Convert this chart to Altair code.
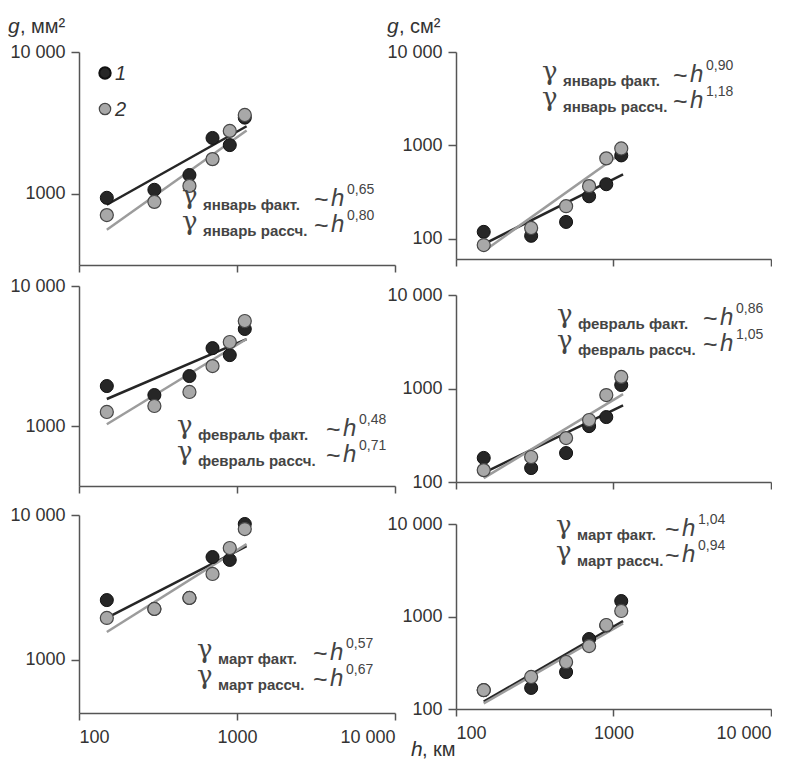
import altair as alt
import pandas as pd

# altitude of the points, km
H = [150, 300, 500, 700, 900, 1120]
LINE_H = [150, 1150]

# January
jan_mm_1 = [940, 1070, 1360, 2480, 2210, 3450]
jan_mm_2 = [710, 880, 1140, 1760, 2780, 3600]
jan_mm_line1 = [840, 3000]
jan_mm_line2 = [560, 2800]
jan_cm_1 = [119, 108, 152, 286, 385, 783]
jan_cm_2 = [86, 131, 224, 367, 727, 929]
jan_cm_line1 = [88, 490]
jan_cm_line2 = [74, 850]

# February
feb_mm_1 = [1930, 1665, 2275, 3600, 3210, 4930]
feb_mm_2 = [1260, 1390, 1750, 2680, 3980, 5620]
feb_mm_line1 = [1560, 4180]
feb_mm_line2 = [1030, 4180]
feb_cm_1 = [181, 141, 204, 396, 495, 1090]
feb_cm_2 = [134, 185, 295, 460, 851, 1330]
feb_cm_line1 = [125, 660]
feb_cm_line2 = [110, 870]

# March
mar_mm_1 = [2590, 2250, 2680, 5130, 4900, 8670]
mar_mm_2 = [1950, 2250, 2680, 3920, 5920, 8000]
mar_mm_line1 = [1950, 6100]
mar_mm_line2 = [1560, 6300]
mar_cm_1 = [160, 169, 251, 571, 800, 1470]
mar_cm_2 = [160, 222, 322, 479, 809, 1148]
mar_cm_line1 = [120, 890]
mar_cm_line2 = [115, 840]

months = ["январь", "февраль", "март"]
kinds = ["факт.", "рассч."]
exp_jan_mm = ["0,65", "0,80"]
exp_jan_cm = ["0,90", "1,18"]
exp_feb_mm = ["0,48", "0,71"]
exp_feb_cm = ["0,86", "1,05"]
exp_mar_mm = ["0,57", "0,67"]
exp_mar_cm = ["1,04", "0,94"]
legend_labels = ["1", "2"]

X_TICKS = [100, 1000, 10000]
LBL = ("datum.value >= 10000 ? replace(format(datum.value, ','), ',', ' ') "
       ": format(datum.value, 'd')")

DARK = "#262626"
GRAY = "#a8a8a8"
TXT = "#444444"
SANS = "Liberation Sans"
LINE_GAP = 26


def txt(s, x, y, size, **kw):
    return alt.Chart(pd.DataFrame({"t": [s]})).mark_text(
        align="left", baseline="alphabetic",
        fontSize=size, color=kw.pop("color", TXT), font=kw.pop("font", SANS), **kw
    ).encode(x=alt.value(x), y=alt.value(y), text="t:N")


def panel(p1, p2, l1, l2, ydom, yticks, w, hgt, xlabels, month, exps, ann, extra=()):
    x0, y0, xt = ann
    xs = alt.X("h:Q", scale=alt.Scale(type="log", domain=[100, 10000], nice=False),
               axis=alt.Axis(values=X_TICKS, labels=xlabels, title=None, grid=False,
                             labelExpr=LBL, tickSize=7, labelPadding=8))
    ys = alt.Y("g:Q", scale=alt.Scale(type="log", domain=ydom, nice=False),
               axis=alt.Axis(values=yticks, title=None, grid=False, labelExpr=LBL,
                             tickSize=8, labelPadding=6))
    ln1 = alt.Chart(pd.DataFrame({"h": LINE_H, "g": l1})).mark_line(
        color=DARK, strokeWidth=2.5).encode(x=xs, y=ys)
    ln2 = alt.Chart(pd.DataFrame({"h": LINE_H, "g": l2})).mark_line(
        color="#9c9c9c", strokeWidth=2.5).encode(x=xs, y=ys)
    pt1 = alt.Chart(pd.DataFrame({"h": H, "g": p1})).mark_circle(
        size=170, fill=DARK, stroke="#111111", strokeWidth=1, opacity=1).encode(x=xs, y=ys)
    pt2 = alt.Chart(pd.DataFrame({"h": H, "g": p2})).mark_circle(
        size=170, fill=GRAY, stroke="#474747", strokeWidth=1.2, opacity=1).encode(x=xs, y=ys)
    layers = [ln1, ln2, pt1, pt2]
    for i in range(2):
        yb = y0 + i * LINE_GAP
        layers.append(txt("γ", x0, yb - 2, 26, font="DejaVu Serif"))
        layers.append(txt(f"{month} {kinds[i]}", x0 + 21, yb + 4, 15, fontWeight="bold"))
        layers.append(txt("~", xt + 1, yb + 2, 25))
        layers.append(txt("h", xt + 18, yb, 24, fontStyle="italic"))
        layers.append(txt(exps[i], xt + 34, yb - 12, 14))
    layers.extend(extra)
    return alt.layer(*layers).properties(width=w, height=hgt)


legend = [
    alt.Chart(pd.DataFrame({"s": [legend_labels[0]]})).mark_circle(
        size=130, fill=DARK, stroke="#111111", opacity=1).encode(x=alt.value(26), y=alt.value(21)),
    alt.Chart(pd.DataFrame({"s": [legend_labels[1]]})).mark_circle(
        size=130, fill=GRAY, stroke="#474747", strokeWidth=1.2, opacity=1).encode(
        x=alt.value(26), y=alt.value(57)),
    txt(legend_labels[0], 36, 28, 20, fontStyle="italic", color="#333333"),
    txt(legend_labels[1], 36, 64, 20, fontStyle="italic", color="#333333"),
]
title_mm = [txt("g", -71, -19, 21, fontStyle="italic", color="#333333"),
            txt(", мм²", -59, -19, 20, color="#333333")]
title_cm = [txt("g", -69, -19, 21, fontStyle="italic", color="#333333"),
            txt(", см²", -57, -19, 20, color="#333333")]
xtitle = [txt("h", -45, 232, 21, fontStyle="italic", color="#333333"),
          txt(", км", -34, 232, 20, color="#333333")]

L1 = panel(jan_mm_1, jan_mm_2, jan_mm_line1, jan_mm_line2, [316, 10000], [1000, 10000],
           316, 213, False, months[0], exp_jan_mm, (103, 154, 234), legend + title_mm)
L2 = panel(feb_mm_1, feb_mm_2, feb_mm_line1, feb_mm_line2, [373, 10000], [1000, 10000],
           316, 200, False, months[1], exp_feb_mm, (98, 150, 246))
L3 = panel(mar_mm_1, mar_mm_2, mar_mm_line1, mar_mm_line2, [431, 10000], [1000, 10000],
           316, 198, True, months[2], exp_mar_mm, (118, 145, 233))
R1 = panel(jan_cm_1, jan_cm_2, jan_cm_line1, jan_cm_line2, [61, 10000], [100, 1000, 10000],
           315, 207, False, months[0], exp_jan_cm, (86, 30, 216), title_cm)
R2 = panel(feb_cm_1, feb_cm_2, feb_cm_line1, feb_cm_line2, [100, 10000], [100, 1000, 10000],
           315, 187, False, months[1], exp_feb_cm, (101, 30, 246))
R3 = panel(mar_cm_1, mar_cm_2, mar_cm_line1, mar_cm_line2, [100, 10000], [100, 1000, 10000],
           315, 185, True, months[2], exp_mar_cm, (100, 12, 208), xtitle)

left = alt.vconcat(L1, alt.vconcat(L2, L3, spacing=12), spacing=4)
right = alt.vconcat(R1, alt.vconcat(R2, R3, spacing=22), spacing=19)

chart = alt.hconcat(left, right, spacing=-10).properties(
    padding={"left": 0, "top": 8, "right": 0, "bottom": 0}
).configure_axis(
    domainColor="#555555", domainWidth=1.5, tickColor="#555555", tickWidth=1.5,
    labelFont=SANS, labelFontSize=18, labelColor="#333333"
).configure_view(stroke=None)

chart.save("out.html", embed_options={"renderer": "svg", "actions": False})
